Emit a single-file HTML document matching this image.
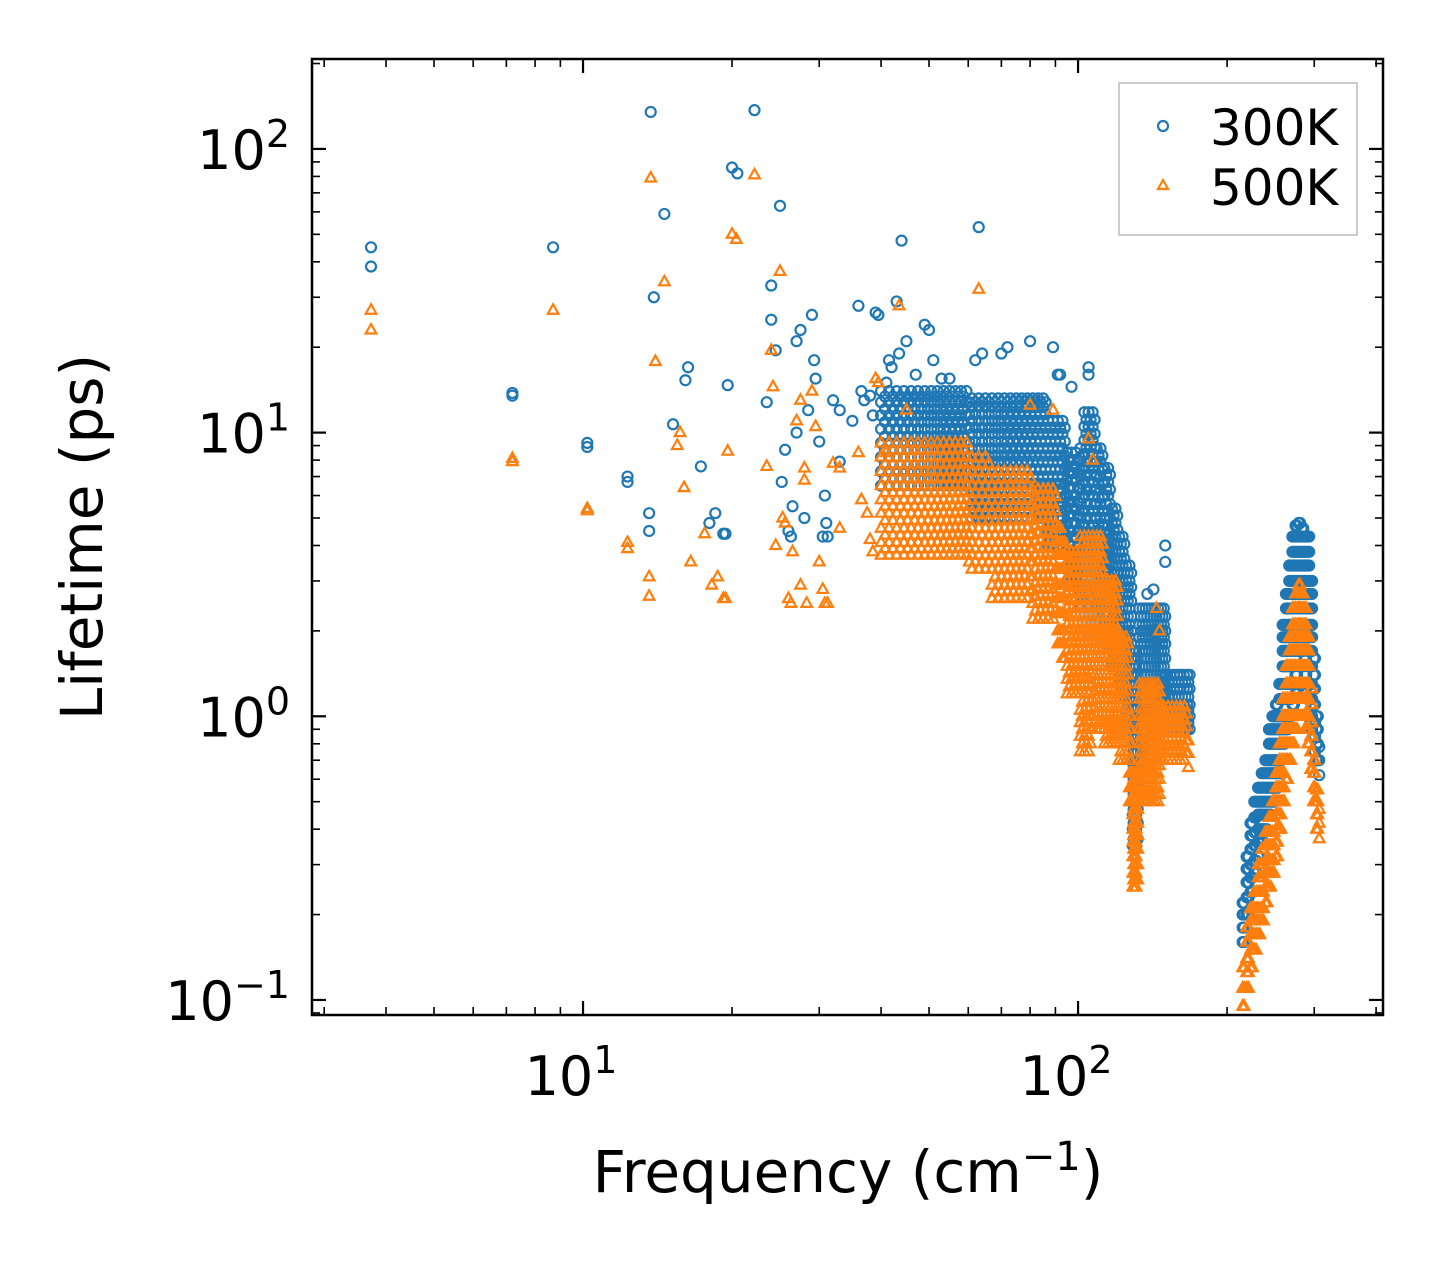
<!DOCTYPE html>
<html><head><meta charset="utf-8"><style>
body{margin:0;background:#fff}
svg{display:block;font-family:"DejaVu Sans","Liberation Sans",sans-serif}
</style></head><body>
<svg id="chart" width="1442" height="1265" viewBox="0 0 1442 1265" xmlns="http://www.w3.org/2000/svg">
<rect width="1442" height="1265" fill="#fff"/>
<g id="marks"></g>
<g id="axes"></g>
<rect x="312" y="59" width="1071" height="956" fill="none" stroke="#000" stroke-width="2.5"/>
<text transform="translate(102,537) rotate(-90)" text-anchor="middle" font-size="58">Lifetime (ps)</text>
<text x="848" y="1192" text-anchor="middle" font-size="58">Frequency (cm<tspan dy="-22" font-size="40">−1</tspan><tspan dy="22">)</tspan></text>
<g>
<rect x="1119" y="83" width="238" height="152" fill="#fff" stroke="#bbb" stroke-width="1.5"/>
<circle cx="1163" cy="126" r="5" fill="none" stroke="#1f77b4" stroke-width="2.2"/>
<text x="1210" y="145" font-size="50">300K</text>
<path d="M1163,180 L1168,189 L1158,189 Z" fill="none" stroke="#ff7f0e" stroke-width="2.2"/>
<text x="1210" y="205" font-size="50">500K</text>
</g>
</svg>
<script>
// ---- data ----
const xTickValues = [10, 100];
const xTickExps = ["1", "2"];
const yTickValues = [0.1, 1, 10, 100];
const yTickExps = ["−1", "0", "1", "2"];

const bluePoints = [[3.73,45],[3.73,38.5],[7.2,13.8],[7.2,13.5],[8.7,45],[10.2,9.2],[10.2,8.9],[12.3,7.0],[12.3,6.7],[13.6,5.2],[13.6,4.5],[13.7,135],[14.6,59],[13.9,30],[15.2,10.7],[16.1,15.3],[16.3,17],[17.3,7.6],[18.0,4.8],[18.5,5.2],[19.2,4.4],[19.4,4.4],[19.6,14.7],[20.0,86],[20.5,82],[22.2,137],[23.5,12.8],[24,33],[24,25],[24.5,19.5],[25,63],[25.2,6.7],[25.6,8.7],[26,4.5],[26.5,5.5],[26.3,4.3],[27,21],[27.5,23],[27,10],[28,5],[28.5,12],[29,26],[29.3,18],[29.5,15.5],[30,9.3],[30.5,4.3],[30.8,6],[31,4.8],[31.2,4.3],[32,13],[33,12],[33,7.9],[35,11],[36,28],[36.5,14],[37,13],[38,13.5],[38.5,11.5],[39,26.5],[39.5,26],[41,15],[41.5,18],[42,17],[43,29],[43.5,19],[44,47.5],[45,21],[47,16],[49,24],[50,23],[51,18],[53,15.5],[55,15.5],[62,18],[63,53],[64,19],[70,19],[72,20],[80,21],[89,20],[91,16],[92,16],[97,14.5],[105,17],[105,16],[150,4],[150,3.5],[138,2.7],[142,2.8]];
const bB1 = [6.5,7.3,8.2,9.2,10.3,11.5,12.8,14];
const bB1b = [6.9,7.7,8.7,9.7,10.9,12.1,13.4];
const bB2 = [5,5.6,6.3,7,7.9,8.8,9.9,11,12.3,13.2];
const bB2b = [5.3,5.9,6.6,7.4,8.3,9.3,10.4,11.6,12.8];
const bB3 = [4,4.5,5,5.6,6.3,7,7.9,8.8,9.9,11];
const bB3b = [4.2,4.7,5.3,5.9,6.6,7.4,8.3,9.3,10.4];
const bB4 = [3,3.4,3.8,4.3,4.8,5.4,6,6.8,7.6,8.5];
const bB4b = [3.2,3.6,4,4.5,5.1,5.7,6.4,7.2,8];
const bB5 = [2,2.3,2.6,2.9,3.3,3.7,4.2,4.7,5.3,6,6.7,7.5,8.4,9.4,10.5,11.8];
const bB5b = [2.15,2.45,2.75,3.1,3.5,3.95,4.45,5,5.6,6.3,7.1,7.9,8.9,9.9,11.1];
const bB6 = [2.5,2.8,3.2,3.6,4,4.5,5,5.6,6.3,7,7.9,8.8];
const bB6b = [2.65,3,3.4,3.8,4.25,4.75,5.3,5.9,6.6,7.4,8.3];
const bB7 = [1.8,2,2.3,2.6,2.9,3.3,3.7,4.2,4.7,5.3,6,6.7,7.5];
const bB7b = [1.9,2.15,2.45,2.75,3.1,3.5,3.95,4.45,5,5.6,6.3,7.1];
const bB8 = [1.5,1.7,1.9,2.1,2.4,2.7,3,3.4,3.8,4.3,4.8,5.4];
const bB8b = [1.6,1.8,2,2.25,2.55,2.85,3.2,3.6,4.05,4.55,5.1];
const bB9 = [1.3,1.5,1.7,1.9,2.1,2.4,2.7,3,3.4,3.8,4.3];
const bB9b = [1.4,1.6,1.8,2,2.25,2.55,2.85,3.2,3.6,4.05];
const bB10 = [1,1.15,1.3,1.5,1.7,1.9,2.1,2.4,2.7,3,3.4];
const bB10b = [1.07,1.22,1.4,1.6,1.8,2,2.25,2.55,2.85,3.2];
const bB11 = [0.35,0.4,0.45,0.5,0.56,0.63,0.7,0.8,0.9,1,1.15,1.3,1.5,1.7];
const bB11b = [0.37,0.42,0.47,0.53,0.6,0.67,0.75,0.85,0.95,1.07,1.22,1.4,1.6];
const bB12 = [0.6,0.7,0.8,0.9,1,1.15,1.3,1.5,1.7,1.9,2.1,2.4];
const bB12b = [0.65,0.75,0.85,0.95,1.07,1.22,1.4,1.6,1.8,2,2.25];
const bB13 = [0.9,1,1.15,1.3,1.5,1.7,1.9,2.1,2.4];
const bB13b = [0.95,1.07,1.22,1.4,1.6,1.8,2,2.25];
const bB14 = [0.9,1,1.1,1.25,1.4];
const bB14b = [0.95,1.05,1.17,1.32];
const blueGroups = [
[[40,41.5,43,44.5,46,47.5,49,50.5,52,53.5,55,56.5,58,59.5],bB1],
[[40.75,42.25,43.75,45.25,46.75,48.25,49.75,51.25,52.75,54.25,55.75,57.25,58.75],bB1b],
[[61,63,65,67,69,71,73,75,77,79,81,83,85],bB2],
[[60.25,62,64,66,68,70,72,74,76,78,80,82,84,86],bB2b],
[[87,89,91,93],bB3],[[88,90,92,94],bB3b],
[[95,97,99],bB4],[[96,98,100],bB4b],
[[101,109,111],bB6],[[102,110,112],bB6b],
[[103,105,107],bB5],[[104,106,108],bB5b],
[[113,115],bB7],[[114,116],bB7b],
[[117,119],bB8],[[118,120],bB8b],
[[121,123],bB9],[[122,124],bB9b],
[[125,127],bB10],[[126,128],bB10b],
[[129,130,131],bB11],[[129.5,130.5,132],bB11b],
[[133,135],bB12],[[134,136],bB12b],
[[137,139,141,143,145,147,149],bB13],[[138,140,142,144,146,148,150],bB13b],
[[151,153.5,156,158.5,161,163.5,166,168],bB14],[[152.2,154.7,157.2,159.7,162.2,164.7,167],bB14b],
[[215,216.5],[0.16,0.18,0.2,0.22]],[[219,221],[0.2,0.23,0.26,0.29,0.32]],[[223,225],[0.24,0.27,0.3,0.34,0.38,0.42]],[[227,229],[0.28,0.31,0.35,0.39,0.44,0.5]],[[231,233],[0.32,0.36,0.4,0.45,0.5,0.56]],[[235,237],[0.36,0.4,0.45,0.5,0.56,0.63]],[[239,241],[0.4,0.45,0.5,0.56,0.63,0.7]],[[243,245],[0.45,0.5,0.56,0.63,0.7,0.8,0.9]],[[247,249],[0.5,0.56,0.63,0.7,0.8,0.9,1]],[[251,253],[0.56,0.63,0.7,0.8,0.9,1,1.1]],[[255,257],[0.63,0.7,0.8,0.9,1,1.15,1.3]],
[[259,261],[0.8,0.9,1,1.15,1.3,1.5,1.7,1.9,2.1]],[[263,265],[0.9,1,1.15,1.3,1.5,1.7,1.9,2.1,2.4,2.7]],[[267,269],[1,1.15,1.3,1.5,1.7,1.9,2.1,2.4,2.7,3,3.4]],[[271,273],[1.1,1.3,1.5,1.7,1.9,2.1,2.4,2.7,3,3.4,3.8,4.3]],[[275,277],[1.2,1.4,1.7,1.9,2.1,2.4,2.7,3,3.4,3.8,4.3,4.7]],[[279,281],[1.3,1.5,1.7,1.9,2.1,2.4,2.7,3,3.4,3.8,4.3,4.8]],[[283,285],[1.3,1.5,1.7,1.9,2.1,2.4,2.7,3,3.4,3.8,4.3,4.6]],[[287,289],[1.2,1.4,1.6,1.9,2.1,2.4,2.7,3,3.4,3.8,4.3]],[[291,293],[1,1.15,1.3,1.5,1.7,1.9,2.1,2.4,2.7,3,3.4,3.8,4.3]],[[295,297],[0.9,1,1.15,1.3,1.5,1.7,1.9,2.1,2.4,2.7,3]],[[299,301],[0.75,0.85,0.95,1.1,1.25,1.4,1.6]],[[303,305],[0.7,0.8,0.9,1]],[[307],[0.62,0.7,0.78]]];

const orangePoints = [[3.73,27],[3.73,23],[7.2,8.1],[7.2,7.9],[8.7,27],[10.2,5.4],[10.2,5.3],[12.3,4.1],[12.3,3.9],[13.6,3.1],[13.6,2.65],[13.7,79],[14.0,17.8],[14.6,34],[15.5,9],[15.7,10],[16,6.4],[16.5,3.5],[17.6,4.4],[18.2,2.9],[18.7,3.1],[19.2,2.6],[19.4,2.6],[19.6,8.6],[20,50],[20.4,48],[22.2,81],[23.5,7.6],[24,19.5],[24.2,14.5],[24.5,4],[25,37],[25.3,5],[25.6,4.8],[26,2.6],[26.3,2.5],[26.5,3.8],[27,11],[27.5,13],[27.5,2.9],[28,7.5],[28,6.8],[28.3,2.5],[29,14],[29.5,10.5],[30,3.5],[30.5,2.8],[30.8,2.5],[31.2,2.5],[32,7.8],[33,4.6],[33,7.5],[36,8.5],[36.5,5.8],[37.5,5.2],[38,4.2],[38.5,3.8],[39,15.5],[39.5,15],[41,8.5],[43.5,28],[45,12],[63,32],[89,12],[80,12.5],[105,9.5],[107,8],[144,2.4],[146,2]];
const oB1 = [3.7,4.1,4.6,5.2,5.8,6.5,7.3,8.2,9.2];
const oB1b = [3.9,4.35,4.9,5.5,6.15,6.9,7.75,8.7];
const oB2 = [3.3,3.7,4.1,4.6,5.2,5.8,6.5,7.3,8.2];
const oB2b = [3.5,3.9,4.35,4.9,5.5,6.15,6.9,7.75];
const oB3 = [2.6,2.9,3.3,3.7,4.1,4.6,5.2,5.8,6.5,7.3];
const oB3b = [2.75,3.1,3.5,3.9,4.35,4.9,5.5,6.15,6.9];
const oB4 = [2.2,2.5,2.8,3.1,3.5,3.9,4.4,5,5.6,6.3];
const oB4b = [2.35,2.65,2.95,3.3,3.7,4.15,4.7,5.3,5.95];
const oB5 = [1.2,1.35,1.5,1.7,1.9,2.1,2.4,2.7,3,3.4,3.8];
const oB5b = [1.27,1.42,1.6,1.8,2,2.25,2.55,2.85,3.2,3.6];
const oB6 = [0.75,0.85,0.95,1.05,1.2,1.35,1.5,1.7,1.9,2.1,2.4,2.7,3,3.4,3.8,4.3];
const oB6b = [0.8,0.9,1,1.12,1.27,1.42,1.6,1.8,2,2.25,2.55,2.85,3.2,3.6,4.05];
const oB7 = [0.9,1,1.15,1.3,1.5,1.7,1.9,2.1,2.4,2.7,3,3.4,3.8,4.3];
const oB7b = [0.95,1.07,1.22,1.4,1.6,1.8,2,2.25,2.55,2.85,3.2,3.6,4.05];
const oB8 = [0.8,0.9,1,1.15,1.3,1.5,1.7,1.9,2.1,2.4,2.7,3];
const oB8b = [0.85,0.95,1.07,1.22,1.4,1.6,1.8,2,2.25,2.55,2.85];
const oB9 = [0.7,0.8,0.9,1,1.15,1.3,1.5,1.7,1.9];
const oB9b = [0.75,0.85,0.95,1.07,1.22,1.4,1.6,1.8];
const oB10 = [0.25,0.28,0.32,0.36,0.4,0.45,0.5,0.56,0.63];
const oB10b = [0.265,0.3,0.34,0.38,0.42,0.47,0.53,0.6];
const oB11 = [0.5,0.56,0.63,0.7,0.8,0.9,1,1.15,1.3];
const oB11b = [0.53,0.6,0.67,0.75,0.85,0.95,1.07,1.22];
const oB12 = [0.7,0.78,0.87,0.97,1.08];
const oB12b = [0.74,0.82,0.92,1.02];
const orangeGroups = [
[[40,41.5,43,44.5,46,47.5,49,50.5,52,53.5,55,56.5,58,59.5],oB1],
[[40.75,42.25,43.75,45.25,46.75,48.25,49.75,51.25,52.75,54.25,55.75,57.25,58.75],oB1b],
[[61,63,65],oB2],[[60.25,62,64,66],oB2b],
[[67,69,71,73,75,77,79],oB3],[[68,70,72,74,76,78,80],oB3b],
[[81,83,85,87,89],oB4],[[82,84,86,88,90],oB4b],
[[91,92],[1.8,2,2.3,2.6,2.9,3.3,3.7,4.1,4.6]],[[93,94],[1.6,1.8,2,2.3,2.6,2.9,3.3,3.7,4.1]],
[[95,97,99],oB5],[[96,98,100],oB5b],
[[101,103,105],oB6],[[102,104,106],oB6b],
[[107,109,111],oB7],[[108,110,112],oB7b],
[[113,115,117,119],oB8],[[114,116,118,120],oB8b],
[[121,123,125],oB9],[[122,124,126],oB9b],
[[127,128],[0.5,0.56,0.63,0.7,0.8,0.9,1]],
[[129,130,131],oB10],[[129.5,130.5,132],oB10b],
[[133,135,137,139,141,143,145],oB11],[[134,136,138,140,142,144,146],oB11b],
[[147,149,152,155,158,161,164],oB12],[[148,150.5,153.5,156.5,159.5,162.5,165.5],oB12b],[[167],[0.66,0.74,0.82]],
[[215,216.5],[0.095,0.11,0.13]],[[219,221],[0.11,0.125,0.14,0.16,0.18]],[[223,225],[0.13,0.15,0.17,0.19,0.21]],[[227,229],[0.15,0.17,0.19,0.21,0.24]],[[231,233],[0.17,0.19,0.21,0.24,0.27,0.3]],[[235,237],[0.19,0.21,0.24,0.27,0.3,0.34]],[[239,241],[0.22,0.25,0.28,0.31,0.35,0.39]],[[243,245],[0.25,0.28,0.31,0.35,0.39,0.44]],[[247,249],[0.28,0.31,0.35,0.39,0.44,0.5]],[[251,253],[0.32,0.36,0.4,0.45,0.5,0.56,0.63]],[[255,257],[0.4,0.45,0.5,0.56,0.63,0.7,0.8]],
[[259,261],[0.5,0.56,0.63,0.7,0.8,0.9,1,1.15]],[[263,265],[0.6,0.7,0.8,0.9,1,1.15,1.3,1.5]],[[267,269],[0.7,0.8,0.9,1,1.15,1.3,1.5,1.7,1.9]],[[271,273],[0.8,0.9,1,1.15,1.3,1.5,1.7,1.9,2.1,2.4]],[[275,277],[0.9,1,1.15,1.3,1.5,1.7,1.9,2.1,2.4,2.7]],[[279,281],[1,1.15,1.3,1.5,1.7,1.9,2.1,2.4,2.7,2.9]],[[283,285],[1,1.15,1.3,1.5,1.7,1.9,2.1,2.4,2.7]],[[287,289],[0.9,1,1.15,1.3,1.5,1.7,1.9,2.1,2.4]],[[291,293],[0.8,0.9,1,1.15,1.3,1.5,1.7,1.9]],[[295,297],[0.65,0.75,0.85,0.95,1.1,1.25]],[[299,301],[0.5,0.56,0.63,0.7]],[[303,305],[0.4,0.45,0.5,0.55]],[[307],[0.37,0.42,0.47]]];

// ---- axes ----
const PX0 = 312, PX1 = 1383, PY0 = 59, PY1 = 1015;
const X_LOG_MIN = 0.4525, X_LOG_MAX = 2.616;
const Y_LOG_MIN = -1.053, Y_LOG_MAX = 2.317;
function xScale(v){ return PX0 + (Math.log10(v) - X_LOG_MIN) / (X_LOG_MAX - X_LOG_MIN) * (PX1 - PX0); }
function yScale(v){ return PY1 - (Math.log10(v) - Y_LOG_MIN) / (Y_LOG_MAX - Y_LOG_MIN) * (PY1 - PY0); }

const NS = "http://www.w3.org/2000/svg";
const marks = document.getElementById("marks");
const axes = document.getElementById("axes");
function mk(tag, attrs, parent){ const e = document.createElementNS(NS, tag); for (const k in attrs) e.setAttribute(k, attrs[k]); parent.appendChild(e); return e; }

function flatten(points, groups){
  const out = points.slice();
  groups.forEach(g => g[0].forEach(f => g[1].forEach(l => out.push([f, l]))));
  return out;
}
flatten(bluePoints, blueGroups).forEach(p => {
  const c = mk("circle", {cx: xScale(p[0]), cy: yScale(p[1]), r: 5, fill: "none", stroke: "#1f77b4", "stroke-width": 2.2}, marks);
  
  
});
flatten(orangePoints, orangeGroups).forEach(p => {
  const x = xScale(p[0]), y = yScale(p[1]);
  const t = mk("path", {d: `M${x},${y-6} L${x+5.3},${y+3.5} L${x-5.3},${y+3.5} Z`, fill: "none", stroke: "#ff7f0e", "stroke-width": 2.2}, marks);
  
  
});

// ticks
function line(x1,y1,x2,y2,w){ return mk("line",{x1,y1,x2,y2,stroke:"#000","stroke-width":w},axes); }
for (let e = 0; e <= 3; e++) {
  for (let m = 1; m <= 9; m++) {
    const v = m * Math.pow(10, e);
    const lv = Math.log10(v);
    const major = m === 1;
    const len = major ? 14 : 8, w = major ? 2.2 : 1.6;
    if (lv >= X_LOG_MIN && lv <= X_LOG_MAX) {
      const x = xScale(v);
      const a = line(x, PY1, x, PY1 - len, w);  
      const b = line(x, PY0, x, PY0 + len, w);  
    }
  }
}
for (let e = -2; e <= 2; e++) {
  for (let m = 1; m <= 9; m++) {
    const v = m * Math.pow(10, e);
    const lv = Math.log10(v);
    const major = m === 1;
    const len = major ? 14 : 8, w = major ? 2.2 : 1.6;
    if (lv >= Y_LOG_MIN && lv <= Y_LOG_MAX) {
      const y = yScale(v);
      const a = line(PX0, y, PX0 + len, y, w);  
      const b = line(PX1, y, PX1 - len, y, w);  
    }
  }
}
xTickValues.forEach((v, i) => {
  const t = mk("text", {x: xScale(v) - 12, y: 1095, "text-anchor": "middle", "font-size": 54}, axes);
  
  
  t.innerHTML = `10<tspan dy="-22" font-size="38">${xTickExps[i]}</tspan>`;
});
yTickValues.forEach((v, i) => {
  const t = mk("text", {x: 290, y: yScale(v) + 20, "text-anchor": "end", "font-size": 54}, axes);
  
  
  t.innerHTML = `10<tspan dy="-22" font-size="38">${yTickExps[i]}</tspan>`;
});
</script>
</body></html>
